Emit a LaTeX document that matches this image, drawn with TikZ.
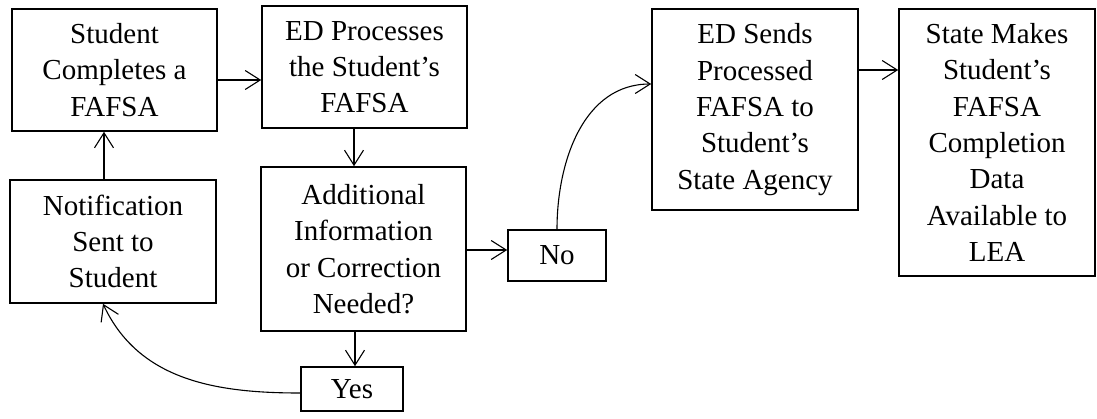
\documentclass[tikz,border=0pt]{standalone}
\usepackage{fontspec}
\setmainfont{Liberation Serif}
\usetikzlibrary{arrows.meta}
\begin{document}
\begin{tikzpicture}[x=1pt,y=-1pt,
  box/.style={draw, line width=1.6pt, rectangle, align=center, inner sep=0pt,
    font=\fontsize{29}{36.3}\selectfont},
  conn/.style={line width=1.1pt, -{Straight Barb[length=15pt,width=19pt,line width=1.1pt]}}]
\useasboundingbox (0,0) rectangle (1097,418);
\node[box, minimum width=205pt, minimum height=122pt] (s1) at (114.5,70) {Student\\Completes a\\FAFSA};
\node[box, minimum width=205pt, minimum height=122pt] (s2) at (364.5,67) {ED Processes\\the Student’s\\FAFSA};
\node[box, minimum width=205pt, minimum height=164pt] (s3) at (363.5,249) {Additional\\Information\\or Correction\\Needed?};
\node[box, minimum width=206pt, minimum height=123pt] (notif) at (113,241.5) {Notification\\Sent to\\Student};
\node[box, minimum width=102pt, minimum height=44pt] (yes) at (352,389) {Yes};
\node[box, minimum width=98pt, minimum height=51pt] (no) at (557,255.5) {No};
\node[box, minimum width=206pt, minimum height=201pt] (sends) at (755,109.5) {ED Sends\\Processed\\FAFSA to\\Student’s\\State Agency};
\node[box, minimum width=196pt, minimum height=267pt] (state) at (997,142.5) {State Makes\\Student’s\\FAFSA\\Completion\\Data\\Available to\\LEA};

\draw[conn] ([yshift=-10pt]s1.east) -- ([yshift=-13pt]s2.west);
\draw[conn] ([xshift=-9pt]notif.north) -- ([xshift=-10.5pt]s1.south);
\draw[conn] ([xshift=-10.5pt]s2.south) -- ([xshift=-9.5pt]s3.north);
\draw[conn] ([xshift=-8.5pt]s3.south) -- ([xshift=3pt]yes.north);
\draw[conn] ([yshift=-1pt]s3.east) -- ([yshift=5.5pt]no.west);
\draw[conn] ([yshift=39.5pt]sends.east) -- ([yshift=72.5pt]state.west);
\draw[conn] (no.north) to[out=90,in=180] ([yshift=25.5pt]sends.west);
\draw[conn] ([yshift=-4pt]yes.west) to[out=180,in=-65] ([xshift=-10pt]notif.south);
\end{tikzpicture}
\end{document}
